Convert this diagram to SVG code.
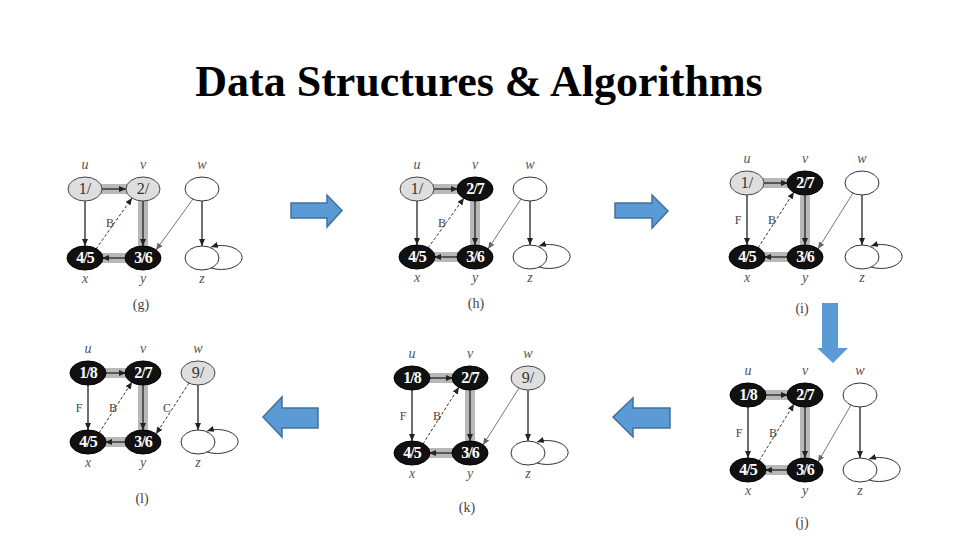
<svg xmlns="http://www.w3.org/2000/svg" width="960" height="540" viewBox="0 0 960 540">
<defs>
<marker id="ah" markerWidth="7" markerHeight="6" refX="7" refY="3" orient="auto" markerUnits="userSpaceOnUse"><path d="M0,0 L7,3 L0,6 Z" fill="#222"/></marker>
<marker id="ahg" markerWidth="7" markerHeight="6" refX="7" refY="3" orient="auto" markerUnits="userSpaceOnUse"><path d="M0,0 L7,3 L0,6 Z" fill="#666"/></marker>
<style>
.title{font-family:"Liberation Serif","Times New Roman",serif;font-weight:bold;font-size:44px;fill:#000;text-anchor:middle}
.band{stroke:#b8b8b8;stroke-width:10;fill:none}
.ar{stroke:#222;stroke-width:1.3;fill:none;marker-end:url(#ah)}
.dash{stroke:#333;stroke-width:1;stroke-dasharray:3,2;fill:none;marker-end:url(#ah)}
.gl{stroke:#777;stroke-width:1;fill:none;marker-end:url(#ahg)}
.loop{stroke:#333;stroke-width:1;fill:none;marker-end:url(#ah)}
.wn{fill:#fff;stroke:#333;stroke-width:1}
.gn{fill:#dedede;stroke:#444;stroke-width:1}
.bn{fill:#111;stroke:#000;stroke-width:1}
.bt{font-family:"Liberation Serif",serif;font-weight:bold;font-size:16px;fill:#fff;text-anchor:middle;letter-spacing:-1px}
.gt{font-family:"Liberation Serif",serif;font-size:16px;fill:#333;text-anchor:middle}
.lb{font-family:"Liberation Serif",serif;font-style:italic;font-size:14px;fill:#555;text-anchor:middle}
.el{font-family:"Liberation Serif",serif;font-size:12px;fill:#444;text-anchor:middle}
.cap{font-family:"Liberation Serif",serif;font-size:14px;fill:#444;text-anchor:middle}
.blue{fill:#5b9bd5;stroke:#41719c;stroke-width:1.5}
</style>
</defs>
<rect width="960" height="540" fill="#fff"/>
<text class="title" x="479" y="96">Data Structures &amp; Algorithms</text>

<g id="connectors">
<!-- panel g: U85 V143 W202 T189 B258 -->
<line class="band" x1="85" y1="189" x2="143" y2="189"/>
<line class="band" x1="143" y1="189" x2="143" y2="258"/>
<line class="band" x1="143" y1="258" x2="85" y2="258"/>
<line class="ar" x1="102" y1="189" x2="126" y2="189"/>
<line class="ar" x1="143" y1="201" x2="143" y2="246"/>
<line class="ar" x1="126" y1="258" x2="102" y2="258"/>
<line class="ar" x1="85" y1="201" x2="85" y2="246"/>
<line class="dash" x1="96" y1="249" x2="132" y2="198"/>
<line class="gl" x1="193" y1="199" x2="156" y2="250"/>
<line class="ar" x1="202" y1="201" x2="202" y2="246"/>
<path class="loop" d="M211,268 A21 12 0 1 0 211,247"/>
<!-- panel h: U417 V475 W530 T189 B257 -->
<line class="band" x1="417" y1="189" x2="475" y2="189"/>
<line class="band" x1="475" y1="189" x2="475" y2="257"/>
<line class="band" x1="475" y1="257" x2="417" y2="257"/>
<line class="ar" x1="434" y1="189" x2="458" y2="189"/>
<line class="ar" x1="475" y1="201" x2="475" y2="245"/>
<line class="ar" x1="458" y1="257" x2="434" y2="257"/>
<line class="ar" x1="417" y1="201" x2="417" y2="245"/>
<line class="dash" x1="428" y1="248" x2="464" y2="198"/>
<line class="gl" x1="521" y1="199" x2="488" y2="249"/>
<line class="ar" x1="530" y1="201" x2="530" y2="245"/>
<path class="loop" d="M539,267 A21 12 0 1 0 539,246"/>
<!-- panel i: U747 V805 W862 T183 B257 -->
<line class="band" x1="747" y1="183" x2="805" y2="183"/>
<line class="band" x1="805" y1="183" x2="805" y2="257"/>
<line class="band" x1="805" y1="257" x2="747" y2="257"/>
<line class="ar" x1="764" y1="183" x2="788" y2="183"/>
<line class="ar" x1="805" y1="195" x2="805" y2="245"/>
<line class="ar" x1="788" y1="257" x2="764" y2="257"/>
<line class="ar" x1="747" y1="195" x2="747" y2="245"/>
<line class="dash" x1="758" y1="248" x2="794" y2="192"/>
<line class="gl" x1="853" y1="193" x2="818" y2="249"/>
<line class="ar" x1="862" y1="195" x2="862" y2="245"/>
<path class="loop" d="M871,267 A21 12 0 1 0 871,246"/>
<!-- panel j: U748 V805 W860 T395 B470 -->
<line class="band" x1="748" y1="395" x2="805" y2="395"/>
<line class="band" x1="805" y1="395" x2="805" y2="470"/>
<line class="band" x1="805" y1="470" x2="748" y2="470"/>
<line class="ar" x1="765" y1="395" x2="788" y2="395"/>
<line class="ar" x1="805" y1="407" x2="805" y2="458"/>
<line class="ar" x1="788" y1="470" x2="765" y2="470"/>
<line class="ar" x1="748" y1="407" x2="748" y2="458"/>
<line class="dash" x1="759" y1="461" x2="794" y2="404"/>
<line class="gl" x1="851" y1="405" x2="818" y2="462"/>
<line class="ar" x1="860" y1="407" x2="860" y2="458"/>
<path class="loop" d="M869,480 A21 12 0 1 0 869,459"/>
<!-- panel k: U412 V470 W528 T378 B453 -->
<line class="band" x1="412" y1="378" x2="470" y2="378"/>
<line class="band" x1="470" y1="378" x2="470" y2="453"/>
<line class="band" x1="470" y1="453" x2="412" y2="453"/>
<line class="ar" x1="429" y1="378" x2="453" y2="378"/>
<line class="ar" x1="470" y1="390" x2="470" y2="441"/>
<line class="ar" x1="453" y1="453" x2="429" y2="453"/>
<line class="ar" x1="412" y1="390" x2="412" y2="441"/>
<line class="dash" x1="423" y1="444" x2="459" y2="387"/>
<line class="gl" x1="519" y1="388" x2="483" y2="445"/>
<line class="ar" x1="528" y1="390" x2="528" y2="441"/>
<path class="loop" d="M537,463 A21 12 0 1 0 537,442"/>
<!-- panel l: U88 V143 W198 T373 B442 -->
<line class="band" x1="88" y1="373" x2="143" y2="373"/>
<line class="band" x1="143" y1="373" x2="143" y2="442"/>
<line class="band" x1="143" y1="442" x2="88" y2="442"/>
<line class="ar" x1="105" y1="373" x2="126" y2="373"/>
<line class="ar" x1="143" y1="385" x2="143" y2="430"/>
<line class="ar" x1="126" y1="442" x2="105" y2="442"/>
<line class="ar" x1="88" y1="385" x2="88" y2="430"/>
<line class="dash" x1="99" y1="433" x2="132" y2="382"/>
<line class="dash" x1="189" y1="383" x2="156" y2="434"/>
<line class="ar" x1="198" y1="385" x2="198" y2="430"/>
<path class="loop" d="M207,452 A21 12 0 1 0 207,431"/>
<!-- edge labels -->
<text class="el" x="110" y="227">B</text>
<text class="el" x="442" y="227">B</text>
<text class="el" x="738" y="224">F</text>
<text class="el" x="772" y="224">B</text>
<text class="el" x="739" y="437">F</text>
<text class="el" x="773" y="437">B</text>
<text class="el" x="403" y="420">F</text>
<text class="el" x="437" y="420">B</text>
<text class="el" x="79" y="412">F</text>
<text class="el" x="113" y="412">B</text>
<text class="el" x="167" y="412">C</text>
</g>

<!-- panel g nodes -->
<g id="g-u"><ellipse class="gn" cx="85" cy="189" rx="17" ry="12"/><text class="gt" x="85" y="194">1/</text><text class="lb" x="85" y="169">u</text></g>
<g id="g-v"><ellipse class="gn" cx="143" cy="189" rx="17" ry="12"/><text class="gt" x="143" y="194">2/</text><text class="lb" x="143" y="169">v</text></g>
<g id="g-w"><ellipse class="wn" cx="202" cy="189" rx="17" ry="12"/><text class="lb" x="202" y="169">w</text></g>
<g id="g-x"><ellipse class="bn" cx="85" cy="258" rx="18" ry="12"/><text class="bt" x="85" y="263">4/5</text><text class="lb" x="85" y="283">x</text></g>
<g id="g-y"><ellipse class="bn" cx="143" cy="258" rx="18" ry="12"/><text class="bt" x="143" y="263">3/6</text><text class="lb" x="143" y="283">y</text></g>
<g id="g-z"><ellipse class="wn" cx="202" cy="258" rx="17" ry="12"/><text class="lb" x="202" y="283">z</text></g>
<text class="cap" x="141" y="309">(g)</text>

<!-- panel h nodes -->
<g id="h-u"><ellipse class="gn" cx="417" cy="189" rx="17" ry="12"/><text class="gt" x="417" y="194">1/</text><text class="lb" x="417" y="169">u</text></g>
<g id="h-v"><ellipse class="bn" cx="475" cy="189" rx="18" ry="12"/><text class="bt" x="475" y="194">2/7</text><text class="lb" x="475" y="169">v</text></g>
<g id="h-w"><ellipse class="wn" cx="530" cy="189" rx="17" ry="12"/><text class="lb" x="530" y="169">w</text></g>
<g id="h-x"><ellipse class="bn" cx="417" cy="257" rx="18" ry="12"/><text class="bt" x="417" y="262">4/5</text><text class="lb" x="417" y="282">x</text></g>
<g id="h-y"><ellipse class="bn" cx="475" cy="257" rx="18" ry="12"/><text class="bt" x="475" y="262">3/6</text><text class="lb" x="475" y="282">y</text></g>
<g id="h-z"><ellipse class="wn" cx="530" cy="257" rx="17" ry="12"/><text class="lb" x="530" y="282">z</text></g>
<text class="cap" x="476" y="308">(h)</text>

<!-- panel i nodes -->
<g id="i-u"><ellipse class="gn" cx="747" cy="183" rx="17" ry="12"/><text class="gt" x="747" y="188">1/</text><text class="lb" x="747" y="163">u</text></g>
<g id="i-v"><ellipse class="bn" cx="805" cy="183" rx="18" ry="12"/><text class="bt" x="805" y="188">2/7</text><text class="lb" x="805" y="163">v</text></g>
<g id="i-w"><ellipse class="wn" cx="862" cy="183" rx="17" ry="12"/><text class="lb" x="862" y="163">w</text></g>
<g id="i-x"><ellipse class="bn" cx="747" cy="257" rx="18" ry="12"/><text class="bt" x="747" y="262">4/5</text><text class="lb" x="747" y="282">x</text></g>
<g id="i-y"><ellipse class="bn" cx="805" cy="257" rx="18" ry="12"/><text class="bt" x="805" y="262">3/6</text><text class="lb" x="805" y="282">y</text></g>
<g id="i-z"><ellipse class="wn" cx="862" cy="257" rx="17" ry="12"/><text class="lb" x="862" y="282">z</text></g>
<text class="cap" x="802" y="313">(i)</text>

<!-- panel j nodes -->
<g id="j-u"><ellipse class="bn" cx="748" cy="395" rx="18" ry="12"/><text class="bt" x="748" y="400">1/8</text><text class="lb" x="748" y="375">u</text></g>
<g id="j-v"><ellipse class="bn" cx="805" cy="395" rx="18" ry="12"/><text class="bt" x="805" y="400">2/7</text><text class="lb" x="805" y="375">v</text></g>
<g id="j-w"><ellipse class="wn" cx="860" cy="395" rx="17" ry="12"/><text class="lb" x="860" y="375">w</text></g>
<g id="j-x"><ellipse class="bn" cx="748" cy="470" rx="18" ry="12"/><text class="bt" x="748" y="475">4/5</text><text class="lb" x="748" y="495">x</text></g>
<g id="j-y"><ellipse class="bn" cx="805" cy="470" rx="18" ry="12"/><text class="bt" x="805" y="475">3/6</text><text class="lb" x="805" y="495">y</text></g>
<g id="j-z"><ellipse class="wn" cx="860" cy="470" rx="17" ry="12"/><text class="lb" x="860" y="495">z</text></g>
<text class="cap" x="802" y="527">(j)</text>

<!-- panel k nodes -->
<g id="k-u"><ellipse class="bn" cx="412" cy="378" rx="18" ry="12"/><text class="bt" x="412" y="383">1/8</text><text class="lb" x="412" y="358">u</text></g>
<g id="k-v"><ellipse class="bn" cx="470" cy="378" rx="18" ry="12"/><text class="bt" x="470" y="383">2/7</text><text class="lb" x="470" y="358">v</text></g>
<g id="k-w"><ellipse class="gn" cx="528" cy="378" rx="17" ry="12"/><text class="gt" x="528" y="383">9/</text><text class="lb" x="528" y="358">w</text></g>
<g id="k-x"><ellipse class="bn" cx="412" cy="453" rx="18" ry="12"/><text class="bt" x="412" y="458">4/5</text><text class="lb" x="412" y="478">x</text></g>
<g id="k-y"><ellipse class="bn" cx="470" cy="453" rx="18" ry="12"/><text class="bt" x="470" y="458">3/6</text><text class="lb" x="470" y="478">y</text></g>
<g id="k-z"><ellipse class="wn" cx="528" cy="453" rx="17" ry="12"/><text class="lb" x="528" y="478">z</text></g>
<text class="cap" x="467" y="512">(k)</text>

<!-- panel l nodes -->
<g id="l-u"><ellipse class="bn" cx="88" cy="373" rx="18" ry="12"/><text class="bt" x="88" y="378">1/8</text><text class="lb" x="88" y="353">u</text></g>
<g id="l-v"><ellipse class="bn" cx="143" cy="373" rx="18" ry="12"/><text class="bt" x="143" y="378">2/7</text><text class="lb" x="143" y="353">v</text></g>
<g id="l-w"><ellipse class="gn" cx="198" cy="373" rx="17" ry="12"/><text class="gt" x="198" y="378">9/</text><text class="lb" x="198" y="353">w</text></g>
<g id="l-x"><ellipse class="bn" cx="88" cy="442" rx="18" ry="12"/><text class="bt" x="88" y="447">4/5</text><text class="lb" x="88" y="467">x</text></g>
<g id="l-y"><ellipse class="bn" cx="143" cy="442" rx="18" ry="12"/><text class="bt" x="143" y="447">3/6</text><text class="lb" x="143" y="467">y</text></g>
<g id="l-z"><ellipse class="wn" cx="198" cy="442" rx="17" ry="12"/><text class="lb" x="198" y="467">z</text></g>
<text class="cap" x="142" y="503">(l)</text>

<!-- blue transition arrows -->
<g id="arrow-g-h"><polygon class="blue" points="291,203 327,203 327,195 342,210.5 327,227 327,218 291,218"/></g>
<g id="arrow-h-i"><polygon class="blue" points="615,203 652,203 652,195 668,211 652,228 652,218 615,218"/></g>
<g id="arrow-i-j"><polygon fill="#5b9bd5" points="822,303 838,303 838,348 848,348 833,363 817,348 822,348"/></g>
<g id="arrow-j-k"><polygon class="blue" points="613,417 633,398 633,408 670,408 670,428 633,428 633,437"/></g>
<g id="arrow-k-l"><polygon class="blue" points="263,417 282,397 282,408 318,408 318,428 282,428 282,437"/></g>
</svg>
